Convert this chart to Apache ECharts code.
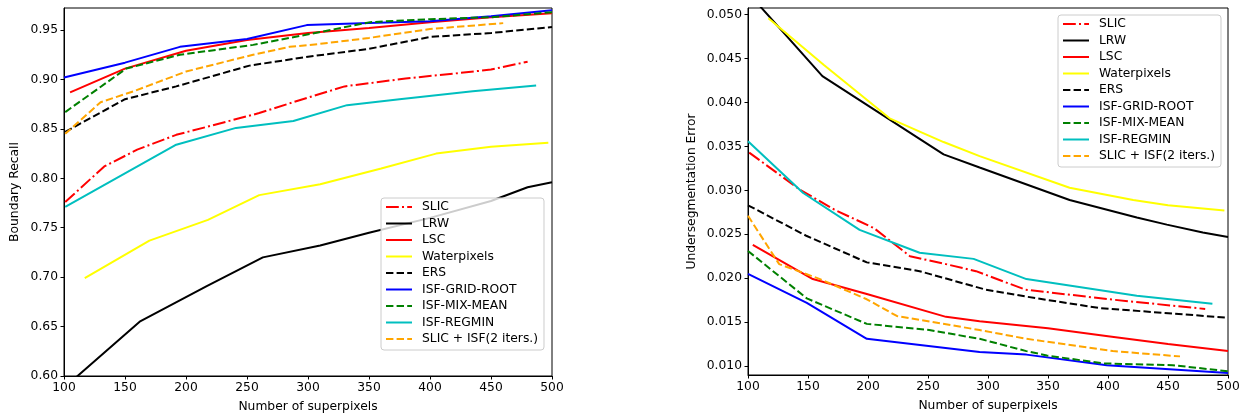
<!DOCTYPE html>
<html><head><meta charset="utf-8">
<script src="https://cdn.jsdelivr.net/npm/echarts@6.0.0/dist/echarts.min.js"></script>
<style>html,body{margin:0;padding:0;background:#fff}#c{width:1255px;height:419px}</style>
</head><body><div id="c"></div><script>
// ---- data ----
const seriesNames = ['SLIC','LRW','LSC','Waterpixels','ERS','ISF-GRID-ROOT','ISF-MIX-MEAN','ISF-REGMIN','SLIC + ISF(2 iters.)'];
const xTicks = [100,150,200,250,300,350,400,450,500];
const brTicks = [0.60,0.65,0.70,0.75,0.80,0.85,0.90,0.95];
const ueTicks = [0.010,0.015,0.020,0.025,0.030,0.035,0.040,0.045,0.050];

// Boundary Recall [superpixels, recall]
const br_SLIC = [[101,0.776],[133,0.812],[160,0.829],[192,0.844],[220,0.853],[260,0.866],[293,0.879],[330,0.893],[380,0.901],[420,0.906],[450,0.910],[480,0.918]];
const br_LRW = [[100,0.588],[162,0.655],[217,0.691],[263,0.720],[310,0.732],[350,0.745],[400,0.760],[450,0.777],[480,0.791],[500,0.796]];
const br_LSC = [[105,0.887],[150,0.911],[200,0.929],[250,0.940],[300,0.947],[350,0.952],[400,0.958],[450,0.963],[500,0.967]];
const br_Water = [[117,0.699],[170,0.737],[218,0.758],[260,0.783],[310,0.794],[360,0.810],[405,0.825],[450,0.832],[497,0.836]];
const br_ERS = [[101,0.847],[150,0.880],[192,0.893],[252,0.914],[300,0.923],[350,0.931],[400,0.943],[450,0.947],[500,0.953]];
const br_Grid = [[100,0.902],[150,0.917],[195,0.933],[250,0.941],[299,0.955],[350,0.957],[400,0.959],[450,0.964],[500,0.970]];
const br_Mix = [[101,0.867],[151,0.911],[195,0.925],[255,0.935],[310,0.948],[351,0.958],[400,0.961],[450,0.963],[500,0.968]];
const br_Regmin = [[101,0.771],[192,0.834],[241,0.851],[288,0.858],[332,0.874],[375,0.880],[435,0.888],[487,0.894]];
const br_SlicIsf = [[101,0.845],[130,0.877],[157,0.888],[200,0.908],[255,0.925],[285,0.933],[310,0.936],[350,0.942],[400,0.951],[460,0.957]];

// Undersegmentation Error [superpixels, error]
const ue_SLIC = [[101,0.0343],[143,0.0301],[172,0.0278],[205,0.0257],[235,0.0225],[265,0.0216],[290,0.0208],[331,0.0187],[401,0.0176],[481,0.0165]];
const ue_LRW = [[100,0.0525],[162,0.0430],[221,0.0378],[263,0.0341],[293,0.0326],[368,0.0289],[424,0.0269],[449,0.0261],[479,0.0252],[500,0.0247]];
const ue_LSC = [[104,0.0238],[154,0.0199],[199,0.0182],[265,0.0156],[293,0.0151],[350,0.0143],[400,0.0134],[450,0.0125],[500,0.0117]];
const ue_Water = [[117,0.0496],[163,0.0443],[218,0.0382],[263,0.0355],[293,0.0339],[368,0.0303],[421,0.0289],[450,0.0283],[497,0.0277]];
const ue_ERS = [[100,0.0283],[149,0.0248],[199,0.0218],[243,0.0208],[298,0.0187],[332,0.0179],[393,0.0166],[500,0.0155]];
const ue_Grid = [[100,0.0205],[149,0.0172],[199,0.0131],[293,0.0116],[332,0.0113],[399,0.0101],[500,0.0092]];
const ue_Mix = [[100,0.0231],[149,0.0177],[199,0.0148],[251,0.0141],[293,0.0131],[332,0.0117],[349,0.0112],[396,0.0103],[454,0.0101],[500,0.0094]];
const ue_Regmin = [[100,0.0356],[146,0.0297],[193,0.0255],[243,0.0229],[288,0.0222],[332,0.0199],[376,0.0190],[424,0.0180],[487,0.0171]];
const ue_SlicIsf = [[100,0.0271],[126,0.0216],[160,0.0199],[199,0.0176],[224,0.0157],[293,0.0141],[332,0.0131],[404,0.0117],[460,0.0111]];

// ---- styles ----
const FONT = 'DejaVu Sans';
const FS = 12.3;
const LW = 2;
const DASH = [7.4, 3.2];
const DASHDOT = [12.8, 3.2, 2, 3.2];
const styles = [
  {color:'#ff0000', type:DASHDOT},
  {color:'#000000', type:'solid'},
  {color:'#ff0000', type:'solid'},
  {color:'#ffff00', type:'solid'},
  {color:'#000000', type:DASH},
  {color:'#0000ff', type:'solid'},
  {color:'#008000', type:DASH},
  {color:'#00bfbf', type:'solid'},
  {color:'#ffa500', type:DASH}
];
const brData = [br_SLIC, br_LRW, br_LSC, br_Water, br_ERS, br_Grid, br_Mix, br_Regmin, br_SlicIsf];
const ueData = [ue_SLIC, ue_LRW, ue_LSC, ue_Water, ue_ERS, ue_Grid, ue_Mix, ue_Regmin, ue_SlicIsf];

const series = [];
[brData, ueData].forEach((set, gi) => {
  set.forEach((d, i) => {
    series.push({
      type:'line', name: seriesNames[i], data: d,
      xAxisIndex: gi, yAxisIndex: gi, symbol:'none', showSymbol:false, clip:true,
      lineStyle:{color: styles[i].color, width:LW, type: styles[i].type},
      itemStyle:{color: styles[i].color},
      emphasis:{disabled:true}
    });
  });
});

function xAxis(gi){
  return {
    type:'value', gridIndex:gi, min:100, max:500, interval:50,
    name:'Number of superpixels', nameLocation:'middle', nameGap:25,
    nameTextStyle:{fontFamily:FONT, fontSize:FS, color:'#000'},
    axisLine:{lineStyle:{color:'#000', width:1}},
    axisTick:{length:3.5, lineStyle:{color:'#000'}, customValues:xTicks},
    axisLabel:{fontFamily:FONT, fontSize:FS, color:'#000', margin:6, customValues:xTicks},
    splitLine:{show:false}
  };
}
function yAxis(gi, min, max, ticks, digits, name, gap){
  return {
    type:'value', gridIndex:gi, min:min, max:max,
    name:name, nameLocation:'middle', nameGap:gap,
    nameTextStyle:{fontFamily:FONT, fontSize:FS, color:'#000'},
    axisLine:{show:true, lineStyle:{color:'#000', width:1}},
    axisTick:{show:true, length:3.5, lineStyle:{color:'#000'}, customValues:ticks},
    axisLabel:{fontFamily:FONT, fontSize:FS, color:'#000', margin:6, customValues:ticks,
      formatter: v => Number(v).toFixed(digits)},
    splitLine:{show:false}
  };
}
function legend(left, top){
  return {
    data: seriesNames, orient:'vertical', left:left, top:top,
    itemWidth:26, itemHeight:14, itemGap:4.5,
    padding:[3,6,5,4],
    itemStyle:{opacity:0, borderWidth:0},
    backgroundColor:'rgba(255,255,255,0.8)', borderColor:'#cccccc', borderWidth:1, borderRadius:3,
    textStyle:{fontFamily:FONT, fontSize:FS, color:'#000', padding:[0,0,0,5]},
    selectedMode:false
  };
}

const chart = echarts.init(document.getElementById('c'), null, {renderer:'canvas'});
chart.setOption({
  animation:false,
  backgroundColor:'#fff',
  grid:[
    {left:64, top:8, width:488, height:368, show:true, borderColor:'#000', borderWidth:1, backgroundColor:'transparent'},
    {left:748, top:8, width:480, height:367, show:true, borderColor:'#000', borderWidth:1, backgroundColor:'transparent'}
  ],
  xAxis:[xAxis(0), xAxis(1)],
  yAxis:[
    yAxis(0, 0.60, 0.9723, brTicks, 2, 'Boundary Recall', 43),
    yAxis(1, 0.00898, 0.05076, ueTicks, 3, 'Undersegmentation Error', 50)
  ],
  legend:[legend(381, 198), legend(1058, 15)],
  series: series
});
</script></body></html>
